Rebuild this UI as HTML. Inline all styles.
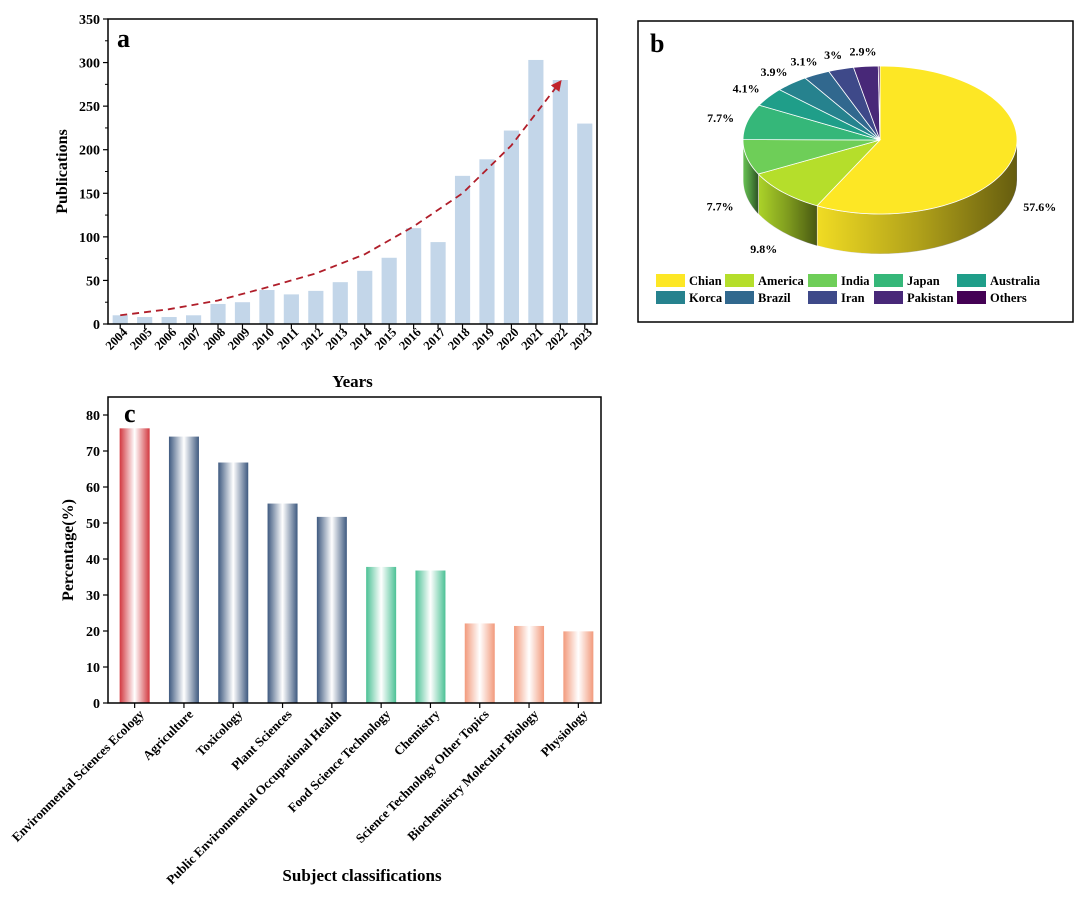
<!DOCTYPE html>
<html><head><meta charset="utf-8"><style>
html,body{margin:0;padding:0;background:#fff;}
svg{display:block;font-family:"Liberation Serif",serif;font-weight:bold;}
</style></head><body>
<svg id="s" width="1080" height="900" viewBox="0 0 1080 900" xmlns="http://www.w3.org/2000/svg">
<defs>
<linearGradient id="gRed" x1="0" x2="1"><stop offset="0" stop-color="#d2383f"/><stop offset="0.5" stop-color="#fff"/><stop offset="1" stop-color="#d2383f"/></linearGradient>
<linearGradient id="gBlue" x1="0" x2="1"><stop offset="0" stop-color="#3f5a80"/><stop offset="0.5" stop-color="#fff"/><stop offset="1" stop-color="#3f5a80"/></linearGradient>
<linearGradient id="gGreen" x1="0" x2="1"><stop offset="0" stop-color="#4cc195"/><stop offset="0.5" stop-color="#fff"/><stop offset="1" stop-color="#4cc195"/></linearGradient>
<linearGradient id="gSal" x1="0" x2="1"><stop offset="0" stop-color="#f29a7c"/><stop offset="0.5" stop-color="#fff"/><stop offset="1" stop-color="#f29a7c"/></linearGradient>
<linearGradient id="gSide" x1="0" x2="1"><stop offset="0" stop-color="#000" stop-opacity="0.05"/><stop offset="0.5" stop-color="#000" stop-opacity="0.3"/><stop offset="1" stop-color="#000" stop-opacity="0.6"/></linearGradient>
<marker id="arr" viewBox="0 0 10 10" refX="8" refY="5" markerWidth="6" markerHeight="6" orient="auto"><path d="M0,0 L10,5 L0,10 z" fill="#c0242c"/></marker>
</defs>
<g id="ca"></g>
<g id="cb"></g>
<g id="cc"></g>
</svg>
<script>
const NS="http://www.w3.org/2000/svg";
function mk(p,t,a,txt){const e=document.createElementNS(NS,t);for(const k in a)e.setAttribute(k,a[k]);if(txt!==undefined)e.textContent=txt;p.appendChild(e);return e;}

// ---- Chart a data ----
const years=["2004","2005","2006","2007","2008","2009","2010","2011","2012","2013","2014","2015","2016","2017","2018","2019","2020","2021","2022","2023"];
const pubs=[10,8,8,10,23,25,39,34,38,48,61,76,110,94,170,189,222,303,280,230];
const trendYears=[0,2,4,6,8,10,12,14,16,18];
const trendVals=[10,17,27,42,58,80,112,150,205,278];
const aTicks=[0,50,100,150,200,250,300,350];

// ---- Chart b data ----
const countries=["Chian","America","India","Japan","Australia","Korca","Brazil","Iran","Pakistan","Others"];
const shares=[57.6,9.8,7.7,7.7,4.1,3.9,3.1,3,2.9,0.2];
const shareLabels=["57.6%","9.8%","7.7%","7.7%","4.1%","3.9%","3.1%","3%","2.9%",""];
const pieColors=["#fde725","#b5de2b","#6ece58","#35b779","#1f9e89","#26828e","#31688e","#3e4989","#482878","#440154"];

// ---- Chart c data ----
const subjects=["Environmental Sciences Ecology","Agriculture","Toxicology","Plant Sciences","Public Environmental Occupational Health","Food Science Technology","Chemistry","Science Technology Other Topics","Biochemistry Molecular Biology","Physiology"];
const percents=[76.3,74,66.8,55.4,51.7,37.8,36.8,22.1,21.4,19.9];
const subjFill=["gRed","gBlue","gBlue","gBlue","gBlue","gGreen","gGreen","gSal","gSal","gSal"];
const cTicks=[0,10,20,30,40,50,60,70,80];

// ===== Chart a =====
(function(){
const g=document.getElementById('ca');
const L=108,R=597,T=19,B=324,max=350;
const y=v=>B-(B-T)*v/max;
const slot=(R-L)/years.length;
const x=i=>L+slot*(i+0.5);
years.forEach((yr,i)=>{
 const r=mk(g,'rect',{x:x(i)-slot*0.31,y:y(pubs[i]),width:slot*0.62,height:B-y(pubs[i]),fill:'#c3d6e9'});
 
 
 mk(g,'line',{x1:x(i),x2:x(i),y1:B,y2:B+5,stroke:'#000','stroke-width':1.2});
 const t=mk(g,'text',{x:0,y:0,'font-size':12.5,'text-anchor':'end',transform:`translate(${x(i)+8},${B+9}) rotate(-45)`},yr);
 
 
});
let d='';trendYears.forEach((k,j)=>{d+=(j?'L':'M')+x(k)+','+y(trendVals[j]);});
const tr=mk(g,'path',{d:d,fill:'none',stroke:'#b01e2a','stroke-width':1.8,'stroke-dasharray':'7,5','marker-end':'url(#arr)'});


mk(g,'rect',{x:L,y:T,width:R-L,height:B-T,fill:'none',stroke:'#000','stroke-width':1.5});
aTicks.forEach(v=>{
 mk(g,'line',{x1:L-5,x2:L,y1:y(v),y2:y(v),stroke:'#000','stroke-width':1.2});
 mk(g,'line',{x1:L-3,x2:L,y1:y(v+25),y2:y(v+25),stroke:'#000','stroke-width':1});
 const t=mk(g,'text',{x:L-8,y:y(v)+5,'font-size':14,'text-anchor':'end'},v);
 
 
});
const yl=mk(g,'text',{'font-size':16,'text-anchor':'middle',transform:`translate(67,${(T+B)/2}) rotate(-90)`},'Publications');

const xl=mk(g,'text',{x:(L+R)/2,y:387,'font-size':17,'text-anchor':'middle'},'Years');

const pl=mk(g,'text',{x:117,y:47,'font-size':26},'a');

})();

// ===== Chart b =====
(function(){
const g=document.getElementById('cb');
mk(g,'rect',{x:638,y:21,width:435,height:301,fill:'#fff',stroke:'#000','stroke-width':1.5});
const pl=mk(g,'text',{x:650,y:52,'font-size':26},'b');

const cx=880,cy=140,rx=137,ry=74,dep=40;
const tot=shares.reduce((a,b)=>a+b,0);
const pt=(a,dy)=>[cx+rx*Math.sin(a),cy-ry*Math.cos(a)+(dy||0)];
let acc=0;const ang=shares.map(s=>{const a0=acc/tot*2*Math.PI;acc+=s;return [a0,acc/tot*2*Math.PI];});
ang.forEach(([a0,a1],i)=>{
 const s=Math.max(a0,Math.PI/2),e=Math.min(a1,3*Math.PI/2);
 if(e<=s)return;
 let d='';const n=30;
 for(let k=0;k<=n;k++){const a=s+(e-s)*k/n;const p=pt(a);d+=(k?'L':'M')+p[0]+','+p[1];}
 for(let k=n;k>=0;k--){const a=s+(e-s)*k/n;const p=pt(a,dep);d+='L'+p[0]+','+p[1];}
 d+='Z';
 const p1=mk(g,'path',{d:d,fill:pieColors[i],stroke:'#fff','stroke-width':0.8});
 
 
 mk(g,'path',{d:d,fill:'url(#gSide)',stroke:'none'});
});
ang.forEach(([a0,a1],i)=>{
 let d='M'+cx+','+cy;const n=Math.max(4,Math.ceil((a1-a0)*30));
 for(let k=0;k<=n;k++){const p=pt(a0+(a1-a0)*k/n);d+='L'+p[0]+','+p[1];}
 d+='Z';
 const sl=mk(g,'path',{d:d,fill:pieColors[i],stroke:'#fff','stroke-width':0.8});
 
 
 if(shareLabels[i]){
  const m=(a0+a1)/2;
  let lx=cx+rx*1.2*Math.sin(m),ly=cy-ry*1.2*Math.cos(m);
  if(Math.cos(m)<0)ly+=dep+6;
  const t=mk(g,'text',{x:lx,y:ly+4,'font-size':12,'text-anchor':'middle'},shareLabels[i]);
  
  
 }
});
const colX=[656,725,808,874,957];
countries.forEach((c,i)=>{
 const col=i%5,row=Math.floor(i/5);
 const lx=colX[col],ly=274+row*17;
 const e=mk(g,'g',{});
 
 
 mk(e,'rect',{x:lx,y:ly,width:29,height:13,fill:pieColors[i]});
 mk(e,'text',{x:lx+33,y:ly+11,'font-size':12.5},c);
});
})();

// ===== Chart c =====
(function(){
const g=document.getElementById('cc');
const L=108,R=601,T=397,B=703,max=85;
const y=v=>B-(B-T)*v/max;
const slot=(R-L)/subjects.length;
const x=i=>L+slot*(i+0.5)+2;
subjects.forEach((s,i)=>{
 const r=mk(g,'rect',{x:x(i)-15,y:y(percents[i]),width:30,height:B-y(percents[i]),fill:'url(#'+subjFill[i]+')'});
 
 
 mk(g,'line',{x1:x(i),x2:x(i),y1:B,y2:B+5,stroke:'#000','stroke-width':1.2});
 const t=mk(g,'text',{x:0,y:0,'font-size':13,'text-anchor':'end',transform:`translate(${x(i)+10},${B+12}) rotate(-45)`},s);
 
 
});
mk(g,'rect',{x:L,y:T,width:R-L,height:B-T,fill:'none',stroke:'#000','stroke-width':1.5});
cTicks.forEach(v=>{
 mk(g,'line',{x1:L-5,x2:L,y1:y(v),y2:y(v),stroke:'#000','stroke-width':1.2});
 const t=mk(g,'text',{x:L-8,y:y(v)+5,'font-size':14,'text-anchor':'end'},v);
 
 
});
const yl=mk(g,'text',{'font-size':16,'text-anchor':'middle',transform:`translate(73,${(T+B)/2}) rotate(-90)`},'Percentage(%)');

const xl=mk(g,'text',{x:362,y:881,'font-size':17,'text-anchor':'middle'},'Subject classifications');

const pl=mk(g,'text',{x:124,y:422,'font-size':26},'c');

})();
</script>
</body></html>
